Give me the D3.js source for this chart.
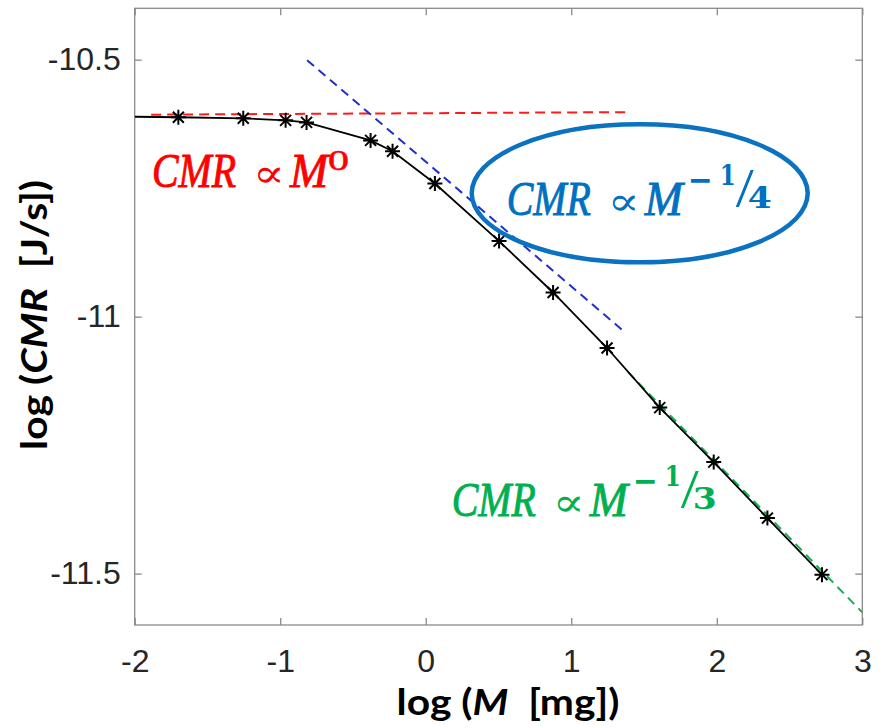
<!DOCTYPE html>
<html>
<head>
<meta charset="utf-8">
<script src="https://cdn.jsdelivr.net/npm/d3@7"></script>
<style>
  html, body { margin: 0; padding: 0; background: #fff; }
  svg { display: block; }
</style>
</head>
<body>
<svg id="chart" width="883" height="728"></svg>
<script>
// ---------------- data ----------------
// model curve (log10 mass in mg, log10 CMR in J/s); first vertex is the curve start at the left edge (no marker)
const logM   = [-2.000, -1.700, -1.254, -0.963, -0.819, -0.379, -0.228, 0.063, 0.504, 0.875, 1.246, 1.608, 1.979, 2.348, 2.723];
const logCMR = [-10.611, -10.612, -10.614, -10.618, -10.622, -10.657, -10.678, -10.741, -10.853, -10.953, -11.061, -11.177, -11.283, -11.392, -11.502];

// reference scaling lines (start / end)
const redLineM    = [-1.887, 1.395];
const redLineCMR  = [-10.607, -10.602];
const blueLineM   = [-0.815, 1.367];
const blueLineCMR = [-10.501, -11.030];
const greenLineM   = [1.390, 3.000];
const greenLineCMR = [-11.108, -11.5755];

// axes
const xTicks = [-2, -1, 0, 1, 2, 3];
const xTickLabels = ["-2", "-1", "0", "1", "2", "3"];
const yTicks = [-10.5, -11, -11.5];
const yTickLabels = ["-10.5", "-11", "-11.5"];

// annotation texts
const xLabelParts = ["log (", "M", "\u00A0\u00A0[mg])"];
const yLabelParts = ["log (", "CMR", "\u00A0\u00A0[J/s])"];
const formulaBase = ["CMR", "\u221D", "M"];

// ---------------- layout ----------------
const W = 883, H = 728;
const plot = { left: 134.7, right: 862.3, top: 8.3, bottom: 625 };

const svg = d3.select("#chart");
svg.append("rect").attr("width", W).attr("height", H).attr("fill", "#fff");

const x = d3.scaleLinear().domain([-2, 3]).range([plot.left, plot.right]);
const y = d3.scaleLinear().domain([-11.6, -10.4]).range([plot.bottom, plot.top]);

const axisColor = "#8a8a8a";
const labelColor = "#262626";

// clip
svg.append("defs").append("clipPath").attr("id", "clip")
  .append("rect").attr("x", plot.left).attr("y", plot.top)
  .attr("width", plot.right - plot.left).attr("height", plot.bottom - plot.top);

// axes
function styleAxis(g) {
  g.select(".domain").remove();
  g.selectAll(".tick line").attr("stroke", axisColor).attr("stroke-width", 1.3);
  g.selectAll(".tick text").attr("fill", labelColor)
    .attr("font-family", "'Liberation Sans', Arial, sans-serif").attr("font-size", 32);
}
svg.append("g").attr("transform", `translate(0,${plot.bottom})`)
  .call(d3.axisBottom(x).tickValues(xTicks).tickSize(-7).tickPadding(24)
    .tickFormat((d, i) => xTickLabels[i]))
  .call(styleAxis);
svg.append("g").attr("transform", `translate(0,${plot.top})`)
  .call(d3.axisTop(x).tickValues(xTicks).tickSize(-7).tickFormat(""))
  .call(styleAxis);
svg.append("g").attr("transform", `translate(${plot.left},0)`)
  .call(d3.axisLeft(y).tickValues(yTicks).tickSize(-7).tickPadding(14)
    .tickFormat((d, i) => yTickLabels[i]))
  .call(styleAxis);
svg.append("g").attr("transform", `translate(${plot.right},0)`)
  .call(d3.axisRight(y).tickValues(yTicks).tickSize(-7).tickFormat(""))
  .call(styleAxis);

// box
svg.append("rect").attr("x", plot.left).attr("y", plot.top)
  .attr("width", plot.right - plot.left).attr("height", plot.bottom - plot.top)
  .attr("fill", "none").attr("stroke", axisColor).attr("stroke-width", 1.3);

const layer = svg.append("g").attr("clip-path", "url(#clip)");

// reference lines
const line = d3.line().x(d => x(d[0])).y(d => y(d[1]));
function refLine(ms, cs, color, dash) {
  layer.append("path").datum(ms.map((m, i) => [m, cs[i]]))
    .attr("d", line).attr("fill", "none").attr("stroke", color)
    .attr("stroke-width", 2).attr("stroke-dasharray", dash);
}
refLine(redLineM, redLineCMR, "#ff1a1a", "10,6");
refLine(blueLineM, blueLineCMR, "#1f2ecc", "9,6");
refLine(greenLineM, greenLineCMR, "#12b04e", "9,6");

// model curve
const pts = logM.map((m, i) => [m, logCMR[i]]);
layer.append("path").datum(pts).attr("d", line)
  .attr("fill", "none").attr("stroke", "#000").attr("stroke-width", 1.8);

// asterisk markers
const a = 7.5, b = 5.5;
const starPath = `M${-a},0L${a},0M0,${-a}L0,${a}M${-b},${-b}L${b},${b}M${-b},${b}L${b},${-b}`;
layer.selectAll(".star").data(pts.slice(1)).enter().append("path")
  .attr("class", "star")
  .attr("transform", d => `translate(${x(d[0])},${y(d[1])})`)
  .attr("d", starPath).attr("stroke", "#000").attr("stroke-width", 2).attr("fill", "none");

// ellipse annotation
svg.append("ellipse").attr("cx", 639.7).attr("cy", 193.3).attr("rx", 168).attr("ry", 69)
  .attr("fill", "none").attr("stroke", "#0a72c0").attr("stroke-width", 4.5);

// formulas
const serif = "'Liberation Serif', 'DejaVu Serif', serif";
const mathFont = "'DejaVu Serif', 'DejaVu Sans', serif";
function formula(x0, y0, color, exp) {
  const g = svg.append("g").attr("fill", color).attr("font-family", serif);
  const txt = (dx, dy, size, len, s) => g.append("text")
    .attr("x", x0 + dx).attr("y", y0 + dy).attr("font-size", size)
    .attr("textLength", len).attr("lengthAdjust", "spacingAndGlyphs").text(s);
  txt(0, 0, 48, 84, formulaBase[0]).attr("font-style", "italic")
    .attr("stroke", color).attr("stroke-width", 0.9);
  txt(101, 0, 40, 32, formulaBase[1]).attr("font-family", mathFont);
  txt(138, 0, 48, 38, formulaBase[2]).attr("font-style", "italic")
    .attr("stroke", color).attr("stroke-width", 0.9);
  if (exp.length === 1) {
    txt(176, -17, 30, 21, exp[0]).attr("stroke", color).attr("stroke-width", 0.5);
  } else {
    txt(181, -19, 48, 25, exp[0]).attr("font-family", mathFont);
    txt(213, -30, 28, 16, exp[1]).attr("font-weight", "bold").attr("font-family", mathFont);
    txt(229, -9, 54, 18, exp[2]);
    txt(241, -7, 30, 24, exp[3]).attr("font-weight", "bold").attr("font-family", mathFont);
  }
}
formula(152, 187, "#ff0000", ["0"]);
formula(506.7, 215, "#0070c0", ["\u2212", "1", "/", "4"]);
formula(451.7, 516, "#00b050", ["\u2212", "1", "/", "3"]);

// axis labels
const sansBold = "Lato, 'Open Sans', 'Noto Sans', sans-serif";
function axisLabel(parts, tx, ty, rot, len) {
  const t = svg.append("text")
    .attr("transform", `translate(${tx},${ty}) rotate(${rot})`)
    .attr("text-anchor", "middle").attr("font-family", sansBold)
    .attr("font-weight", "bold").attr("font-size", 37).attr("fill", "#000")
    .attr("textLength", len).attr("lengthAdjust", "spacingAndGlyphs");
  t.append("tspan").text(parts[0]);
  t.append("tspan").attr("font-style", "italic").text(parts[1]);
  t.append("tspan").text(parts[2]);
}
axisLabel(xLabelParts, 508, 715, 0, 223);
axisLabel(yLabelParts, 47, 315, -90, 270);
</script>
</body>
</html>
